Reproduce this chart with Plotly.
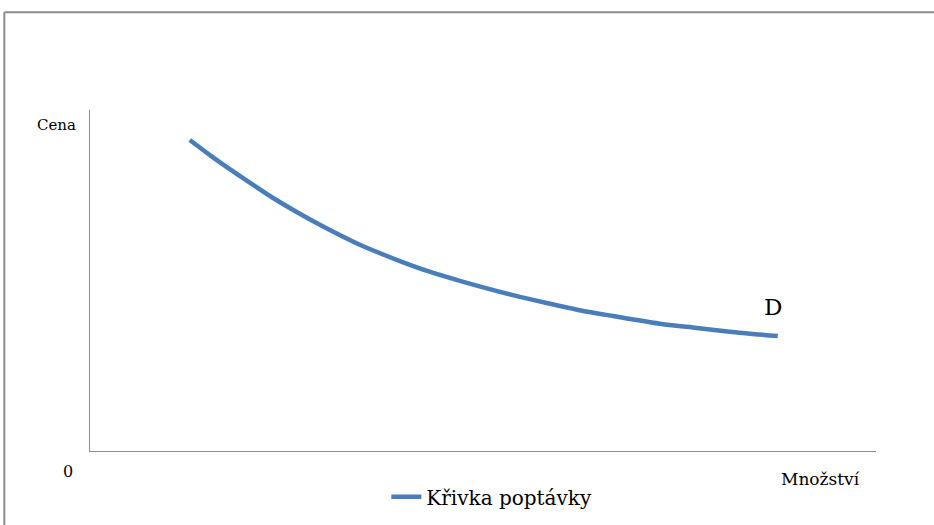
import plotly.graph_objects as go

# Demand curve (quantity on x, price on y), arbitrary units
mnozstvi = [12.7, 15.6, 20.0, 23.3, 26.3, 29.3, 34.7, 39.1, 43.3, 47.5, 53.8, 58.1, 62.3, 66.5, 72.9, 77.2, 81.4, 87.5]
cena = [91.2, 86.2, 79.2, 74.2, 70.1, 66.3, 60.1, 56.0, 52.5, 49.6, 45.7, 43.4, 41.3, 39.6, 37.2, 36.1, 35.0, 33.7]

serie_nazev = "Křivka poptávky"
osa_y_nazev = "Cena"
osa_x_nazev = "Množství"
pocatek = "0"
krivka_znacka = "D"

BLUE = "#4a7ebb"
AXIS = "#8c8c8c"
FONT = "DejaVu Serif"

fig = go.Figure()
fig.add_trace(go.Scatter(
    x=mnozstvi, y=cena, mode="lines", name=serie_nazev,
    line=dict(color=BLUE, width=4.5, shape="spline", smoothing=0.8),
    hoverinfo="skip",
))

fig.update_layout(
    width=934, height=525,
    margin=dict(l=90, r=58, t=110, b=74, autoexpand=False),
    paper_bgcolor="white", plot_bgcolor="white",
    font=dict(family=FONT, color="black"),
    showlegend=True,
    legend=dict(
        orientation="h", x=0.377, y=-0.134, xanchor="left", yanchor="middle",
        font=dict(family=FONT, size=20, color="black"),
        itemwidth=30, bgcolor="rgba(0,0,0,0)",
    ),
    xaxis=dict(range=[0, 100], showgrid=False, zeroline=False, showticklabels=False,
               ticks="", showline=True, linecolor=AXIS, linewidth=1, fixedrange=True),
    yaxis=dict(range=[0, 100], showgrid=False, zeroline=False, showticklabels=False,
               ticks="", showline=True, linecolor=AXIS, linewidth=1, fixedrange=True),
)

# Chart frame (top and left edges visible)
fig.add_shape(type="line", xref="paper", yref="paper",
              x0=-0.109, x1=1.08, y0=1.287, y1=1.287, line=dict(color=AXIS, width=2))
fig.add_shape(type="line", xref="paper", yref="paper",
              x0=-0.109, x1=-0.109, y0=1.287, y1=-0.22, line=dict(color=AXIS, width=2))

# Axis captions and curve label
fig.add_annotation(text=osa_y_nazev, xref="paper", yref="paper", x=-0.042, y=0.955,
                   showarrow=False, font=dict(family=FONT, size=15), xanchor="center", yanchor="middle")
fig.add_annotation(text=pocatek, xref="paper", yref="paper", x=-0.028, y=-0.059,
                   showarrow=False, font=dict(family=FONT, size=16), xanchor="center", yanchor="middle")
fig.add_annotation(text=osa_x_nazev, xref="paper", yref="paper", x=0.929, y=-0.082,
                   showarrow=False, font=dict(family=FONT, size=17), xanchor="center", yanchor="middle")
fig.add_annotation(text=krivka_znacka, x=86.9, y=42.2, xref="x", yref="y",
                   showarrow=False, font=dict(family=FONT, size=23), xanchor="center", yanchor="middle")

fig.write_html("out.html")
